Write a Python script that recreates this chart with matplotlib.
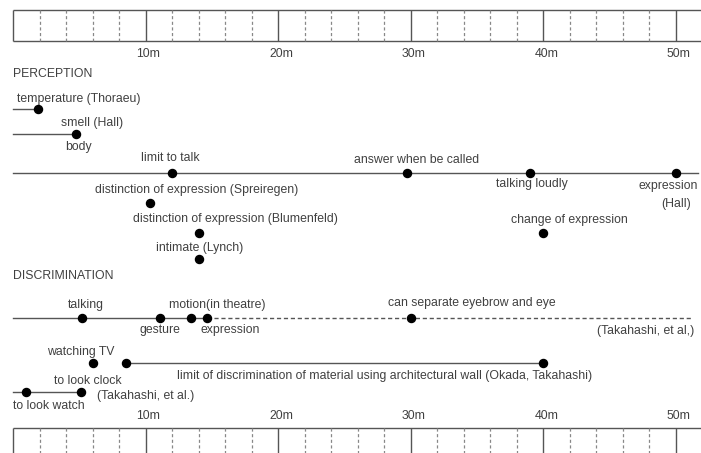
import numpy as np
import matplotlib
matplotlib.use("Agg")
import matplotlib.pyplot as plt

plt.rcParams['font.family'] = ['Liberation Sans', 'DejaVu Sans']

# distances in metres
ruler_ticks = np.arange(0, 52, 2)
ruler_labels = ["10m", "20m", "30m", "40m", "50m"]

temperature_d = 1.9
smell_d = 4.75
talk_names = ["limit to talk", "answer when be called", "talking loudly", "expression"]
talk_d = [12.0, 29.7, 39.0, 50.0]
spreiregen_d = 10.3
blumenfeld_d = 14.0
lynch_d = 14.0
change_d = 40.0

disc_names = ["talking", "gesture", "motion(in theatre)", "expression"]
disc_d = [5.2, 11.1, 13.4, 14.6]
eyebrow_d = 30.0
dashed_end = 51.2
tv_d = 6.0
wall_d = [8.5, 40.0]
watch_d = 1.0
clock_d = 5.1

# layout: x in metres, y in image pixels
PX = 13.26
fig = plt.figure(figsize=(7.01, 4.53), dpi=100)
ax = fig.add_axes([0, 0, 1, 1])
ax.set_xlim(-13 / PX, (701 - 13) / PX)
ax.set_ylim(453, 0)
ax.axis('off')

tc = '#404040'
lc = '#555555'
fs = 8.8


def label(x, y, s, dx, dy, ha='center'):
    ax.text(x + dx / PX, y + dy, s, ha=ha, va='center', fontsize=fs, color=tc)


def dot(x, y):
    ax.plot(x, y, 'o', color='black', markersize=5.8, zorder=5)


def ruler(top, bottom, label_y):
    right = ax.get_xlim()[1]
    ax.hlines([top, bottom], 0, right, color=lc, lw=1)
    for t in ruler_ticks:
        if t % 10 == 0:
            ax.vlines(t, top, bottom, color=lc, lw=1)
        else:
            ax.vlines(t, top, bottom, color='#888888', lw=0.9, linestyles=(0, (2.5, 2)))
    for i, s in enumerate(ruler_labels):
        label((i + 1) * 10, label_y, s, 3, 0)


ruler(10, 41, 54)
ruler(428, 470, 416)

# PERCEPTION
ax.text(0, 74, "PERCEPTION", ha='left', va='center', fontsize=fs, color=tc)

ax.plot([0, temperature_d], [109, 109], color=lc, lw=1)
dot(temperature_d, 109)
label(temperature_d, 109, "temperature (Thoraeu)", 41, -10)

ax.plot([0, smell_d], [134, 134], color=lc, lw=1)
dot(smell_d, 134)
label(smell_d, 134, "smell (Hall)", 16, -11)
label(smell_d, 134, "body", 2, 13)

ax.plot([0, ax.get_xlim()[1] - 0.2], [173, 173], color=lc, lw=1)
talk_off = [(-2, -15), (10, -13), (2, 11), (-8, 13)]
for d, s, (dx, dy) in zip(talk_d, talk_names, talk_off):
    dot(d, 173)
    label(d, 173, s, dx, dy)
label(talk_d[3], 173, "(Hall)", 0, 31)

dot(spreiregen_d, 203)
label(spreiregen_d, 203, "distinction of expression (Spreiregen)", 47, -13)
dot(blumenfeld_d, 233)
label(blumenfeld_d, 233, "distinction of expression (Blumenfeld)", 37, -14)
dot(lynch_d, 259)
label(lynch_d, 259, "intimate (Lynch)", 1, -11)
dot(change_d, 233)
label(change_d, 233, "change of expression", 26, -13)

# DISCRIMINATION
ax.text(0, 276, "DISCRIMINATION", ha='left', va='center', fontsize=fs, color=tc)

ax.plot([0, disc_d[-1]], [318, 318], color=lc, lw=1)
ax.plot([disc_d[-1], dashed_end], [318, 318], color=lc, lw=1, linestyle=(0, (3, 2)))
disc_off = [(4, -13), (0, 12), (27, -13), (24, 12)]
for d, s, (dx, dy) in zip(disc_d, disc_names, disc_off):
    dot(d, 318)
    label(d, 318, s, dx, dy)
dot(eyebrow_d, 318)
label(eyebrow_d, 318, "can separate eyebrow and eye", 61, -15)
label(dashed_end, 318, "(Takahashi, et al,)", 2, 13, ha='right')

dot(tv_d, 363)
label(tv_d, 363, "watching TV", -12, -11)

ax.plot(wall_d, [363, 363], color=lc, lw=1)
for d in wall_d:
    dot(d, 363)
label(np.mean(wall_d), 363,
      "limit of discrimination of material using architectural wall (Okada, Takahashi)", 50, 13)

ax.plot([0, clock_d], [392, 392], color=lc, lw=1)
dot(watch_d, 392)
dot(clock_d, 392)
label(clock_d, 392, "to look clock", 7, -11)
label(clock_d, 392, "(Takahashi, et al.)", 65, 4)
label(watch_d, 392, "to look watch", 23, 14)

fig.savefig("out.png", dpi=100)
